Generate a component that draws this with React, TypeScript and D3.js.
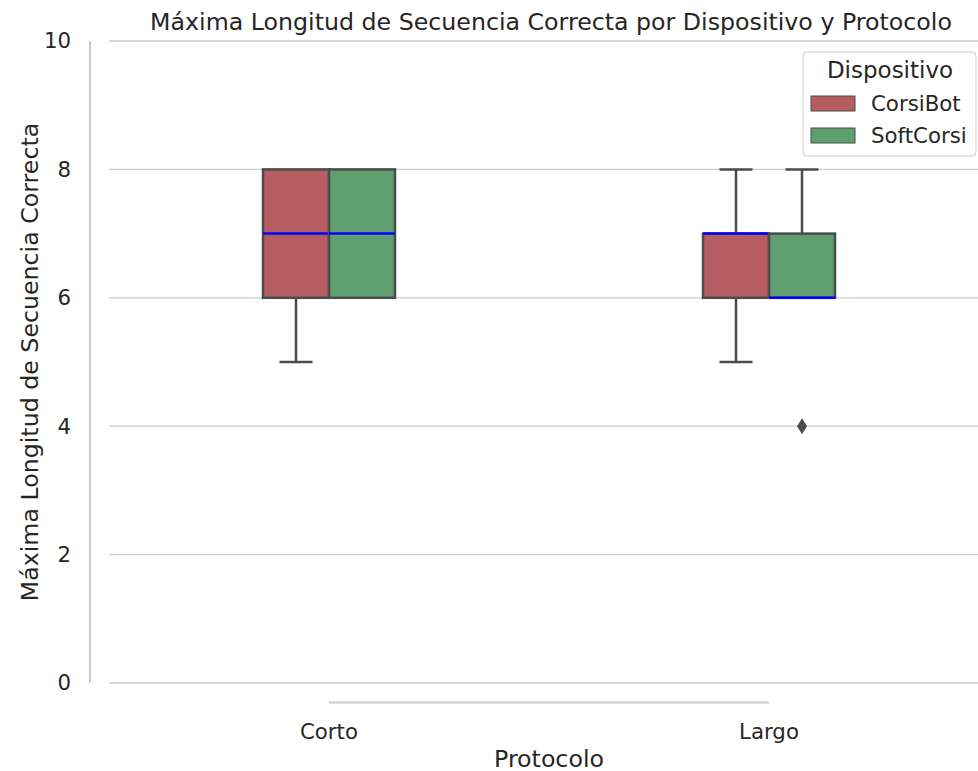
import React from "react";
import * as d3 from "d3";

const categories = ["Corto", "Largo"];
const devices = ["CorsiBot", "SoftCorsi"];
const deviceColors = ["#b55d60", "#5f9e6e"];
// box stats per [category][device]
const q1 = [[6, 6], [6, 6]];
const medians = [[7, 7], [7, 6]];
const q3 = [[8, 8], [7, 7]];
const whiskLow = [[5, 6], [5, 6]];
const whiskHigh = [[8, 8], [8, 8]];
const outliers = [[[], []], [[], [4]]];
const yTicks = [0, 2, 4, 6, 8, 10];

const W = 978, H = 771;
const FONT = "'DejaVu Sans', sans-serif";
const TXT = "#262626";
const EDGE = "#4c4c4c";

export default function App() {
  const x = d3.scaleLinear().domain([-0.5, 1.5]).range([109, 989]);
  const y = d3.scaleLinear().domain([0, 10]).range([683, 41]);
  const boxW = (x(0.3) - x(0)) / 2;
  const diamond = "M0,-8L5,0L0,8L-5,0Z";

  return (
    <svg width={W} height={H} style={{ position: "absolute", left: 0, top: 0 }} fontFamily={FONT}>
      <rect width={W} height={H} fill="#fff" />
      {yTicks.map((t) => (
        <g key={t}>
          <line x1={109} x2={W} y1={y(t)} y2={y(t)} stroke="#cccccc" strokeWidth={1.3} />
          <text x={71} y={y(t)} dy="0.35em" textAnchor="end" fontSize={21.3} fill={TXT}>{t}</text>
        </g>
      ))}
      <line x1={90} x2={90} y1={y(10)} y2={y(0)} stroke="#cccccc" strokeWidth={2} />
      <line x1={x(0)} x2={x(1)} y1={702.5} y2={702.5} stroke="#cccccc" strokeWidth={2} />
      {categories.map((c, i) => (
        <text key={c} x={x(i)} y={739} textAnchor="middle" fontSize={21.3} fill={TXT}>{c}</text>
      ))}
      {categories.map((c, i) =>
        devices.map((d, j) => {
          const x0 = x(i) + (j === 0 ? -boxW : 0);
          const cx = x0 + boxW / 2;
          return (
            <g key={c + d}>
              {whiskLow[i][j] < q1[i][j] && (
                <g>
                  <line x1={cx} x2={cx} y1={y(q1[i][j])} y2={y(whiskLow[i][j])} stroke={EDGE} strokeWidth={2.5} />
                  <line x1={cx - boxW / 4} x2={cx + boxW / 4} y1={y(whiskLow[i][j])} y2={y(whiskLow[i][j])} stroke={EDGE} strokeWidth={2.5} />
                </g>
              )}
              {whiskHigh[i][j] > q3[i][j] && (
                <g>
                  <line x1={cx} x2={cx} y1={y(q3[i][j])} y2={y(whiskHigh[i][j])} stroke={EDGE} strokeWidth={2.5} />
                  <line x1={cx - boxW / 4} x2={cx + boxW / 4} y1={y(whiskHigh[i][j])} y2={y(whiskHigh[i][j])} stroke={EDGE} strokeWidth={2.5} />
                </g>
              )}
              <rect x={x0} y={y(q3[i][j])} width={boxW} height={y(q1[i][j]) - y(q3[i][j])} fill={deviceColors[j]} stroke={EDGE} strokeWidth={2.5} />
              <line x1={x0} x2={x0 + boxW} y1={y(medians[i][j])} y2={y(medians[i][j])} stroke="#0000ff" strokeWidth={2.5} />
              {outliers[i][j].map((o, k) => (
                <path key={k} d={diamond} transform={`translate(${cx},${y(o)})`} fill={EDGE} />
              ))}
            </g>
          );
        })
      )}
      <text x={551} y={30} textAnchor="middle" fontSize={23.7} fill={TXT}>Máxima Longitud de Secuencia Correcta por Dispositivo y Protocolo</text>
      <text transform={`translate(38,${y(5)}) rotate(-90)`} textAnchor="middle" fontSize={23.7} fill={TXT}>Máxima Longitud de Secuencia Correcta</text>
      <text x={549} y={767} textAnchor="middle" fontSize={23.7} fill={TXT}>Protocolo</text>
      <g>
        <rect x={803} y={52} width={173} height={104} rx={4} fill="#fff" fillOpacity={0.8} stroke="#cccccc" strokeWidth={1} />
        <text x={890} y={78} textAnchor="middle" fontSize={23} fill={TXT}>Dispositivo</text>
        {devices.map((d, j) => (
          <g key={d}>
            <rect x={811} y={96 + j * 32} width={44} height={15} fill={deviceColors[j]} stroke={EDGE} strokeWidth={1} />
            <text x={871} y={111 + j * 32} fontSize={21.3} fill={TXT}>{d}</text>
          </g>
        ))}
      </g>
    </svg>
  );
}
